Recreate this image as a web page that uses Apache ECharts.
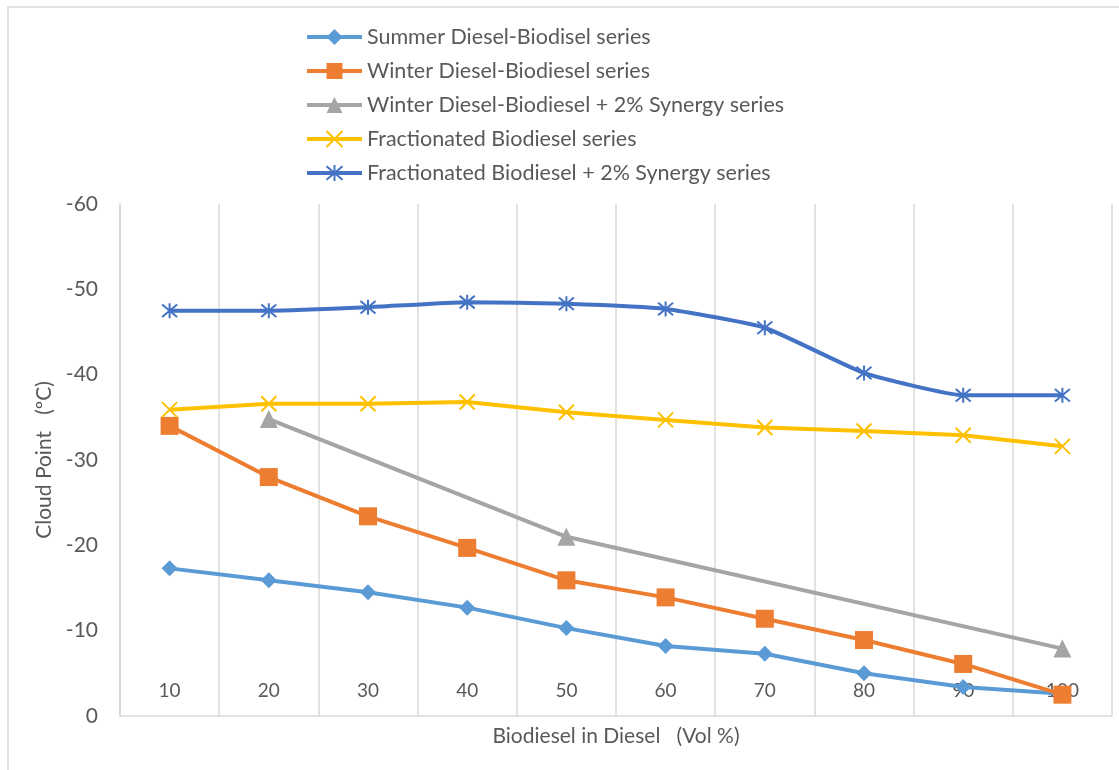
<!DOCTYPE html>
<html>
<head>
<meta charset="utf-8">
<script src="https://cdn.jsdelivr.net/npm/echarts@6/dist/echarts.min.js"></script>
<style>html,body{margin:0;padding:0;background:#fff}#c{width:1119px;height:770px}</style>
</head>
<body>
<div id="c"></div>
<script>
const categories = ['10','20','30','40','50','60','70','80','90','100'];
const summerSeries = [-17.3,-15.9,-14.5,-12.7,-10.3,-8.2,-7.3,-5.0,-3.4,-2.6];
const winterSeries = [-34.0,-28.0,-23.4,-19.7,-15.9,-13.9,-11.4,-8.9,-6.1,-2.5];
const winterSynergySeries = [null,-34.8,null,null,-21.0,null,null,null,null,-7.9];
const fractionatedSeries = [-35.9,-36.6,-36.6,-36.8,-35.6,-34.7,-33.8,-33.4,-32.9,-31.6];
const fractionatedSynergySeries = [-47.5,-47.5,-47.9,-48.5,-48.3,-47.7,-45.5,-40.2,-37.6,-37.6];
const seriesNames = [
  'Summer Diesel-Biodisel series',
  'Winter Diesel-Biodiesel series',
  'Winter Diesel-Biodiesel + 2% Synergy series',
  'Fractionated Biodiesel series',
  'Fractionated Biodiesel + 2% Synergy series'
];

const FONT = 'Lato, "Open Sans", sans-serif';
const TXT = '#595959';
const GRID = '#D9D9D9';
const crossPath = 'path://M0,0L10,10M10,0L0,10';
const starPath = 'path://M0,0L10,10M10,0L0,10M5,-1L5,11';

const chart = echarts.init(document.getElementById('c'), null, {renderer: 'canvas'});

function lineSeries(name, data, color, symbol, size, extra) {
  return Object.assign({
    name: name,
    type: 'line',
    data: data,
    symbol: symbol,
    symbolSize: size,
    connectNulls: true,
    lineStyle: {color: color, width: 4},
    itemStyle: {color: color},
    emphasis: {disabled: true},
    animation: false
  }, extra || {});
}

chart.setOption({
  animation: false,
  textStyle: {fontFamily: FONT},
  graphic: [{
    type: 'rect',
    shape: {x: 8, y: 7, width: 1200, height: 800},
    style: {fill: 'none', stroke: GRID, lineWidth: 1.5},
    silent: true, z: -10
  }],
  legend: {
    orient: 'vertical',
    left: 300,
    top: 21,
    itemWidth: 55,
    itemHeight: 20,
    itemGap: 12,
    lineStyle: {width: 4},
    textStyle: {color: TXT, fontSize: 21.5, fontFamily: FONT},
    data: seriesNames
  },
  grid: {left: 120, right: 7, top: 204, bottom: 54, containLabel: false},
  xAxis: {
    type: 'category',
    data: categories,
    boundaryGap: true,
    name: 'Biodiesel in Diesel   (Vol %)',
    nameLocation: 'middle',
    nameGap: 10,
    nameTextStyle: {color: TXT, fontSize: 21, fontFamily: FONT, verticalAlign: 'top'},
    axisLine: {show: true, lineStyle: {color: GRID, width: 1.5}},
    axisTick: {show: false},
    axisLabel: {inside: true, margin: 16, color: TXT, fontSize: 19, fontFamily: FONT},
    splitLine: {show: true, lineStyle: {color: GRID, width: 1.5}}
  },
  yAxis: {
    type: 'value',
    inverse: true,
    min: -60,
    max: 0,
    interval: 10,
    name: 'Cloud Point   (ºC)',
    nameLocation: 'middle',
    nameGap: 64,
    nameRotate: 90,
    nameTextStyle: {color: TXT, fontSize: 21, fontFamily: FONT},
    axisLine: {show: true, lineStyle: {color: GRID, width: 1.5}},
    axisTick: {show: false},
    axisLabel: {margin: 22, color: TXT, fontSize: 21, fontFamily: FONT},
    splitLine: {show: false}
  },
  series: [
    lineSeries(seriesNames[0], summerSeries, '#5B9BD5', 'diamond', 16),
    lineSeries(seriesNames[1], winterSeries, '#ED7D31', 'rect', 18),
    lineSeries(seriesNames[2], winterSynergySeries, '#A5A5A5', 'triangle', 18),
    lineSeries(seriesNames[3], fractionatedSeries, '#FFC000', crossPath, 15, {
      itemStyle: {color: '#FFC000', borderColor: '#FFC000', borderWidth: 2}
    }),
    lineSeries(seriesNames[4], fractionatedSynergySeries, '#4472C4', starPath, 15, {
      smooth: 0.15,
      itemStyle: {color: '#4472C4', borderColor: '#4472C4', borderWidth: 2}
    })
  ]
});
</script>
</body>
</html>
